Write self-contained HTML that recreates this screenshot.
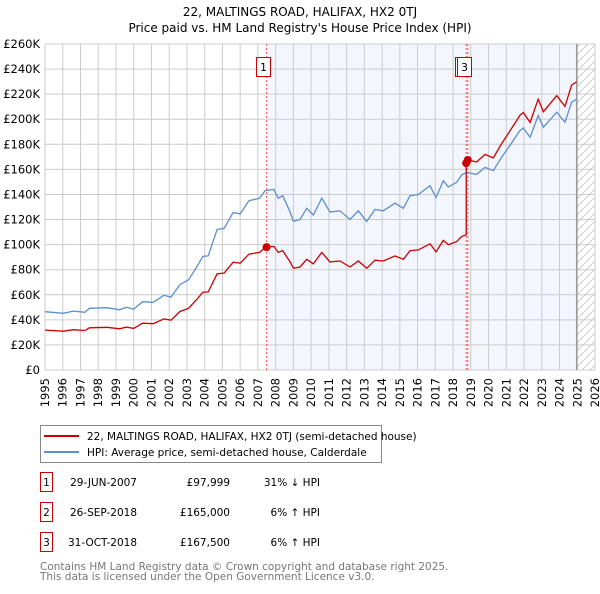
<!DOCTYPE html>
<html><head><meta charset="utf-8"><style>
body{margin:0;background:#fff;font-family:"DejaVu Sans","Liberation Sans",sans-serif;}
svg text{font-family:"DejaVu Sans","Liberation Sans",sans-serif;}
</style></head><body>
<svg id="chart" width="600" height="590" viewBox="0 0 600 590" xmlns="http://www.w3.org/2000/svg">
<defs><pattern id="hatch" patternUnits="userSpaceOnUse" width="8" height="8"><path d="M0,8 L8,0" stroke="#ccc" stroke-width="1"/></pattern></defs>
<text x="300" y="16" text-anchor="middle" font-size="12">22, MALTINGS ROAD, HALIFAX, HX2 0TJ</text>
<text x="300" y="32" text-anchor="middle" font-size="12">Price paid vs. HM Land Registry's House Price Index (HPI)</text>
<g id="plot"></g>
<g>
<rect x="40.5" y="425.5" width="341" height="37" fill="#fff" stroke="#888"/>
<line x1="44" y1="436" x2="79" y2="436" stroke="#cc0000" stroke-width="2"/>
<text x="87" y="440" font-size="10.5">22, MALTINGS ROAD, HALIFAX, HX2 0TJ (semi-detached house)</text>
<line x1="44" y1="452" x2="79" y2="452" stroke="#5b8fd0" stroke-width="2"/>
<text x="87" y="456" font-size="10.5">HPI: Average price, semi-detached house, Calderdale</text>
</g>
<g id="table" font-size="10.5"></g>
<text x="40" y="570" font-size="10.5" fill="#777">Contains HM Land Registry data © Crown copyright and database right 2025.</text>
<text x="40" y="580" font-size="10.5" fill="#777">This data is licensed under the Open Government Licence v3.0.</text>
</svg>
<script>
const hpiYears=[1995.0,1996.03,1996.6,1997.25,1997.5,1998.5,1999.2,1999.6,2000.0,2000.5,2001.1,2001.7,2002.1,2002.6,2003.1,2003.5,2003.9,2004.2,2004.7,2005.1,2005.6,2006.0,2006.5,2007.1,2007.4,2007.9,2008.15,2008.4,2008.8,2009.0,2009.37,2009.75,2010.12,2010.6,2011.06,2011.63,2012.19,2012.66,2013.13,2013.6,2014.07,2014.73,2015.2,2015.57,2016.04,2016.7,2017.04,2017.45,2017.73,2018.2,2018.49,2018.77,2019.33,2019.8,2020.27,2020.74,2021.2,2021.77,2021.96,2022.34,2022.8,2023.09,2023.84,2024.31,2024.68,2024.97];
const hpiValues=[46.5,45.2,47,46,49.2,49.7,48,50,48.5,54.5,54,59.6,58,68,72,81,90.6,91,112,113,125.6,124.5,135,137,143,144,137,139,126.6,118.6,120,129,123.6,137,126,127,120,127,118.5,128,127,133,129,139,140,147,137.6,151,146,149.6,155.7,157.6,156,161.6,159,169.8,179,191,193,185.6,203,193.6,205.6,197.6,213.6,216];
const saleYears=[2007.49,2018.74,2018.83];
const salePrices=[97.999,165,167.5];
const saleLabels=["1","2","3"];
const saleDates=["29-JUN-2007","26-SEP-2018","31-OCT-2018"];
const salePriceText=["£97,999","£165,000","£167,500"];
const saleHpiText=["31% ↓ HPI","6% ↑ HPI","6% ↑ HPI"];
const yTicks=[0,20,40,60,80,100,120,140,160,180,200,220,240,260];
const xTicks=[1995,1996,1997,1998,1999,2000,2001,2002,2003,2004,2005,2006,2007,2008,2009,2010,2011,2012,2013,2014,2015,2016,2017,2018,2019,2020,2021,2022,2023,2024,2025,2026];
const X0=45,X1=595,Y0=370,Y1=44;
const xs=y=>X0+(y-1995)/(2026-1995)*(X1-X0);
const ys=v=>Y0-v/260*(Y0-Y1);
const NS="http://www.w3.org/2000/svg";
const plot=document.getElementById('plot');
function mk(tag,attrs,parent){const e=document.createElementNS(NS,tag);for(const k in attrs)e.setAttribute(k,attrs[k]);(parent||plot).appendChild(e);return e;}
function hpiAt(y){for(let i=0;i<hpiYears.length-1;i++){if(y<=hpiYears[i+1]){const t=(y-hpiYears[i])/(hpiYears[i+1]-hpiYears[i]);return hpiValues[i]+t*(hpiValues[i+1]-hpiValues[i]);}}return hpiValues[hpiValues.length-1];}
const endY=hpiYears[hpiYears.length-1];
let bg=mk('rect',{x:X0,y:Y1,width:X1-X0,height:Y0-Y1,fill:'#fff'});


let sh=mk('rect',{x:xs(saleYears[0]),y:Y1,width:xs(endY)-xs(saleYears[0]),height:Y0-Y1,fill:'#f3f6fd'});


let ht=mk('rect',{x:xs(endY),y:Y1,width:X1-xs(endY),height:Y0-Y1,fill:'url(#hatch)'});


yTicks.forEach(v=>{let l=mk('line',{x1:X0,x2:X1,y1:ys(v),y2:ys(v),stroke:'#ccc','stroke-width':1});


let t=mk('text',{x:X0-5,y:ys(v)+4,'text-anchor':'end','font-size':11.5});t.textContent=v===0?'£0':'£'+v+'K';

});
xTicks.forEach(y=>{let l=mk('line',{x1:xs(y),x2:xs(y),y1:Y1,y2:Y0,stroke:'#ccc','stroke-width':1});


let t=mk('text',{x:0,y:0,'text-anchor':'end','font-size':11.5,transform:`translate(${xs(y)+4},${Y0+8}) rotate(-90)`});t.textContent=y;

});
let el=mk('line',{x1:xs(endY),x2:xs(endY),y1:Y1,y2:Y0,stroke:'#999','stroke-width':1.5});


saleYears.forEach((sy,i)=>{let l=mk('line',{x1:xs(sy),x2:xs(sy),y1:Y1,y2:Y0,stroke:'#ee5555','stroke-width':1,'stroke-dasharray':'2,2'});

});
let d=hpiYears.map((y,i)=>(i?'L':'M')+xs(y).toFixed(1)+','+ys(hpiValues[i]).toFixed(1)).join('');
let hp=mk('path',{d:d,fill:'none',stroke:'#5b8fd0','stroke-width':1.3});


let pts=[];
function seg(a,b,r){pts.push([a,hpiAt(a)*r]);hpiYears.forEach((y,i)=>{if(y>a&&y<b)pts.push([y,hpiValues[i]*r]);});pts.push([b,hpiAt(b)*r]);}
const r1=salePrices[0]/hpiAt(saleYears[0]),r2=salePrices[1]/hpiAt(saleYears[1]),r3=salePrices[2]/hpiAt(saleYears[2]);
seg(1995,saleYears[1],r1);seg(saleYears[1],saleYears[2],r2);seg(saleYears[2],endY,r3);
let d2=pts.map((p,i)=>(i?'L':'M')+xs(p[0]).toFixed(1)+','+ys(p[1]).toFixed(1)).join('');
let pp=mk('path',{d:d2,fill:'none',stroke:'#cc0000','stroke-width':1.3});


saleYears.forEach((sy,i)=>{let c=mk('circle',{cx:xs(sy),cy:ys(salePrices[i]),r:4,fill:'#cc0000'});

});
saleYears.forEach((sy,i)=>{let g=mk('g',{});


mk('rect',{x:Math.round(xs(sy)-11)+0.5,y:57.5,width:14,height:19,fill:'#fff',stroke:'#cc0000'},g);
let t=mk('text',{x:Math.round(xs(sy)-11)+7.5,y:71,'text-anchor':'middle','font-size':11},g);t.textContent=saleLabels[i];});
const tb=document.getElementById('table');
saleYears.forEach((sy,i)=>{const cy=483+30*i;let g=mk('g',{},tb);


mk('rect',{x:40.5,y:cy-10.5,width:12,height:19,fill:'#fff',stroke:'#cc0000'},g);
let a=mk('text',{x:46.5,y:cy+3,'text-anchor':'middle'},g);a.textContent=saleLabels[i];
let b=mk('text',{x:137,y:cy+3,'text-anchor':'end'},g);b.textContent=saleDates[i];
let c=mk('text',{x:230,y:cy+3,'text-anchor':'end'},g);c.textContent=salePriceText[i];
let e=mk('text',{x:320,y:cy+3,'text-anchor':'end'},g);e.textContent=saleHpiText[i];});
</script>
</body></html>
